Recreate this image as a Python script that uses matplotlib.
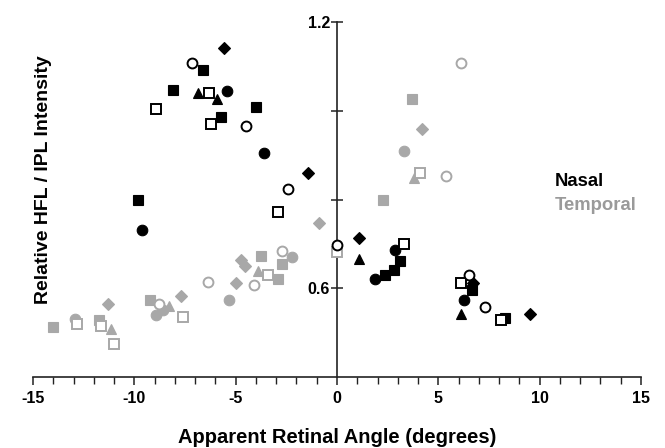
import matplotlib
matplotlib.use("Agg")
import matplotlib.pyplot as plt
from matplotlib.ticker import MultipleLocator

plt.rcParams['font.family'] = ['Liberation Sans', 'DejaVu Sans']

# ---- Data ----
# Nasal (black)
nasal_sq_filled_x = [-6.63, -8.11, -4.01, -5.71, -9.83, 2.38, 2.83, 3.11, 6.64, 8.28]
nasal_sq_filled_y = [1.092, 1.046, 1.008, 0.985, 0.800, 0.629, 0.641, 0.662, 0.595, 0.534]
nasal_ci_filled_x = [-5.43, -3.62, -9.62, 1.89, 2.86, 6.27]
nasal_ci_filled_y = [1.045, 0.904, 0.731, 0.620, 0.686, 0.574]
nasal_tri_x = [-6.87, -5.93, 1.10, 6.10]
nasal_tri_y = [1.040, 1.027, 0.665, 0.543]
nasal_dia_x = [-5.56, -1.42, 1.10, 6.72, 9.52]
nasal_dia_y = [1.142, 0.859, 0.713, 0.611, 0.543]
nasal_sq_open_x = [-8.91, -6.31, -6.22, -2.91, 3.31, 6.10, 8.09]
nasal_sq_open_y = [1.003, 1.039, 0.970, 0.772, 0.700, 0.612, 0.529]
nasal_ci_open_x = [-7.14, -4.51, -2.42, 0.0, 6.50, 7.29]
nasal_ci_open_y = [1.108, 0.965, 0.823, 0.697, 0.629, 0.557]

# Temporal (gray)
temp_sq_filled_x = [-14.03, -11.73, -9.21, -3.73, -2.71, -2.93, 3.70, 2.29]
temp_sq_filled_y = [0.512, 0.528, 0.573, 0.673, 0.655, 0.621, 1.026, 0.799]
temp_ci_filled_x = [-12.93, -8.93, -8.57, -5.31, -2.20, 3.29]
temp_ci_filled_y = [0.531, 0.539, 0.552, 0.574, 0.671, 0.909]
temp_tri_x = [-11.13, -8.30, -3.91, 3.80]
temp_tri_y = [0.508, 0.559, 0.638, 0.849]
temp_dia_x = [-11.31, -7.71, -5.00, -4.74, -4.54, -0.90, 4.21]
temp_dia_y = [0.564, 0.583, 0.611, 0.663, 0.650, 0.746, 0.958]
temp_sq_open_x = [-12.81, -11.66, -11.00, -7.61, -3.40, 0.0, 4.09]
temp_sq_open_y = [0.520, 0.514, 0.474, 0.536, 0.630, 0.682, 0.859]
temp_ci_open_x = [-8.80, -6.38, -4.11, -2.70, 5.38, 6.10]
temp_ci_open_y = [0.565, 0.614, 0.608, 0.683, 0.853, 1.108]

x_ticks = [-15, -10, -5, 0, 5, 10, 15]
y_ticks = [0.6, 0.8, 1.0, 1.2]
y_tick_labels = ['0.6', '', '', '1.2']

BLACK = '#000000'
GRAY = '#a8a8a8'

fig = plt.figure(figsize=(6.65, 4.48), dpi=100)
ax = fig.add_axes([33/665, 1 - 377/448, (641-33)/665, (377-22)/448])

def pts(x, y, marker, color, filled, ms):
    if filled:
        ax.plot(x, y, linestyle='none', marker=marker, markersize=ms,
                markerfacecolor=color, markeredgecolor=color, markeredgewidth=0.8,
                clip_on=False, zorder=3)
    else:
        ax.plot(x, y, linestyle='none', marker=marker, markersize=ms - 0.9,
                markerfacecolor='white', markeredgecolor=color, markeredgewidth=1.4,
                clip_on=False, zorder=4)

# Temporal first (under)
pts(temp_sq_filled_x, temp_sq_filled_y, 's', GRAY, True, 7.2)
pts(temp_ci_filled_x, temp_ci_filled_y, 'o', GRAY, True, 7.6)
pts(temp_tri_x, temp_tri_y, '^', GRAY, True, 7.8)
pts(temp_dia_x, temp_dia_y, 'D', GRAY, True, 6.4)
pts(temp_sq_open_x, temp_sq_open_y, 's', GRAY, False, 8.0)
pts(temp_ci_open_x, temp_ci_open_y, 'o', GRAY, False, 8.0)

pts(nasal_sq_filled_x, nasal_sq_filled_y, 's', BLACK, True, 7.2)
pts(nasal_ci_filled_x, nasal_ci_filled_y, 'o', BLACK, True, 7.6)
pts(nasal_tri_x, nasal_tri_y, '^', BLACK, True, 7.8)
pts(nasal_dia_x, nasal_dia_y, 'D', BLACK, True, 6.4)
pts(nasal_sq_open_x, nasal_sq_open_y, 's', BLACK, False, 8.0)
pts(nasal_ci_open_x, nasal_ci_open_y, 'o', BLACK, False, 8.0)

ax.set_xlim(-15, 15)
ax.set_ylim(0.4, 1.2)

for s in ['top', 'right']:
    ax.spines[s].set_visible(False)
ax.spines['left'].set_position(('data', 0))
ax.spines['left'].set_linewidth(1.2)
ax.spines['bottom'].set_linewidth(1.2)
ax.spines['left'].set_color('#222222')
ax.spines['bottom'].set_color('#222222')

ax.set_xticks(x_ticks)
ax.set_xticklabels([str(t) for t in x_ticks])
ax.xaxis.set_minor_locator(MultipleLocator(1))
ax.tick_params(axis='x', which='major', direction='out', length=6, width=1.1,
               labelsize=11.5, pad=4, color='#222222')
ax.tick_params(axis='x', which='minor', direction='out', length=5, width=1.0,
               color='#222222')
ax.set_yticks(y_ticks)
ax.set_yticklabels(y_tick_labels)
ax.tick_params(axis='y', which='major', direction='inout', length=8, width=1.1,
               labelsize=11.5, pad=1, color='#222222')
for lab in ax.get_xticklabels() + ax.get_yticklabels():
    lab.set_fontweight('bold')

fig.text(337/665, 1 - 437/448, 'Apparent Retinal Angle (degrees)', ha='center', va='center',
         fontsize=14.5, fontweight='bold')
fig.text(44/665, 1 - 180/448, 'Relative HFL / IPL Intensity', ha='center', va='center',
         rotation=90, fontsize=14, fontweight='bold')

fig.text(555/665, 1 - 182/448, 'Nasal', ha='left', va='center', fontsize=13.3,
         fontweight='bold', color='#000000')
fig.text(555/665, 1 - 205/448, 'Temporal', ha='left', va='center', fontsize=13.3,
         fontweight='bold', color='#9a9a9a')

fig.savefig('out.png', dpi=100)
